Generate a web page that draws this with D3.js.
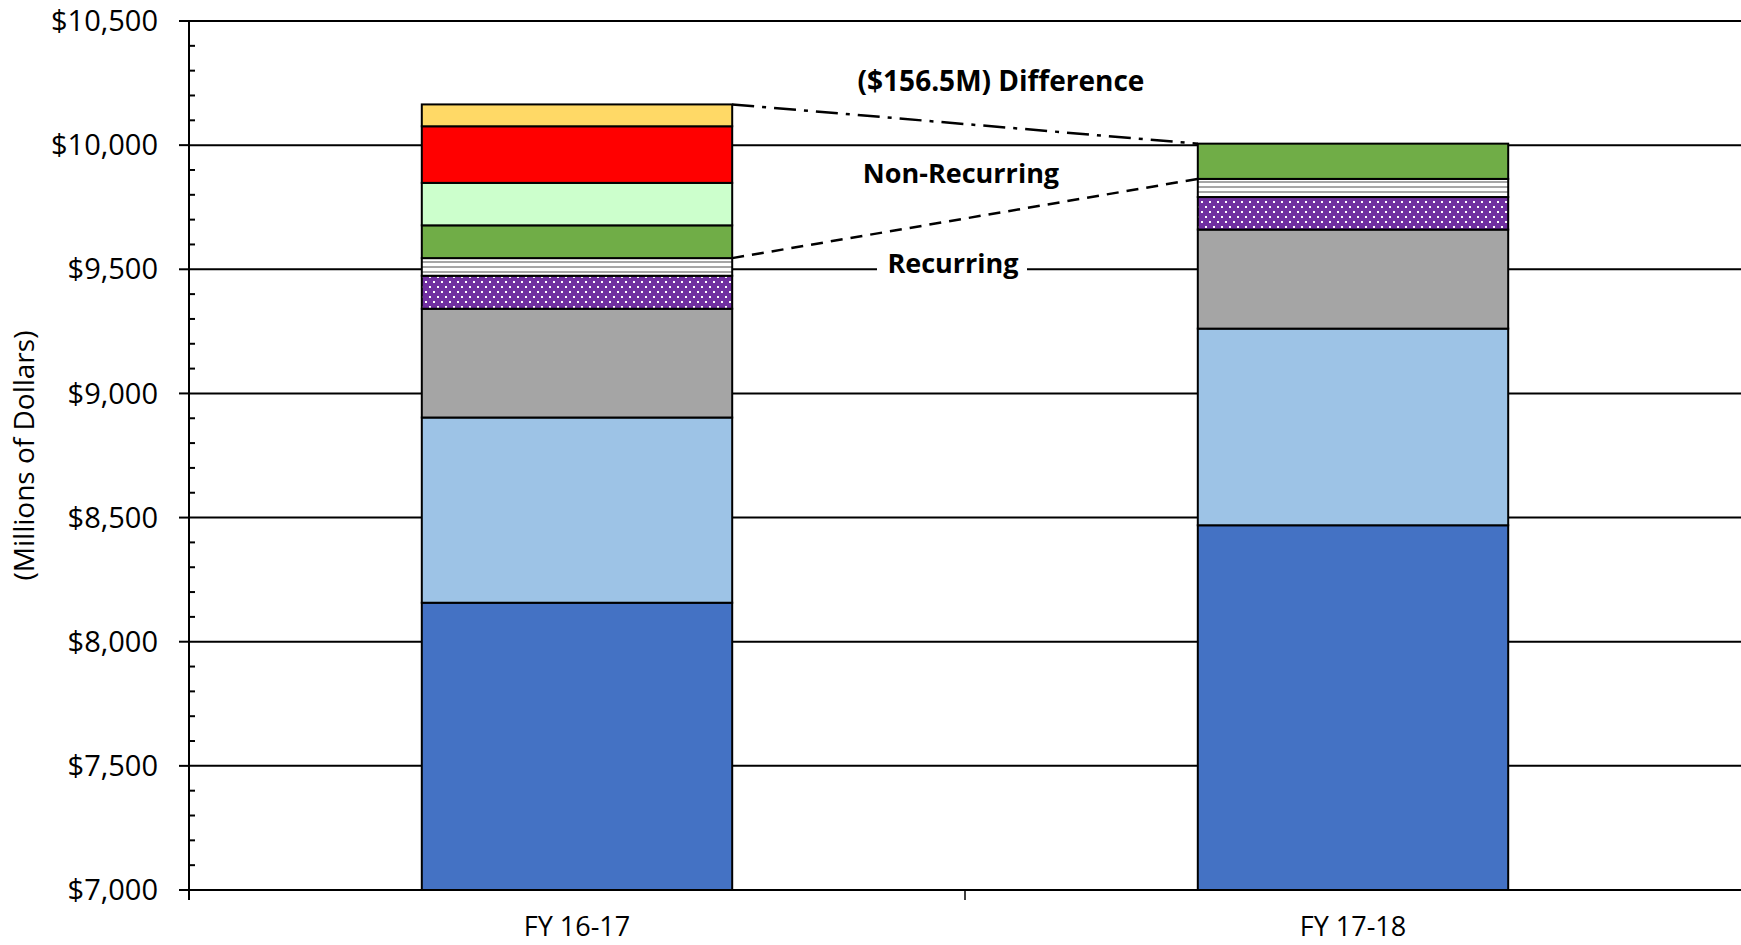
<!DOCTYPE html>
<html><head><meta charset="utf-8">
<script src="https://cdn.jsdelivr.net/npm/d3@7"></script>
<style>body{margin:0;background:#fff}svg{display:block}text{font-family:"Open Sans",sans-serif;fill:#000}</style>
</head><body><svg id="c" width="1741" height="945"></svg>
<script>
const categories = ["FY 16-17", "FY 17-18"];
const segmentNames = ["base","s2","s3","s4","s5","s6","s7","s8","s9"];
const segmentColors = ["#4472C4","#9DC3E6","#A5A5A5","url(#dots)","url(#stripes)","#70AD47","#CCFFCC","#FF0000","#FFD966"];
const fy1617 = [8157, 746, 438, 133, 71, 132, 171, 228, 88];
const fy1718 = [8469, 792, 399, 131, 73, 142, 0, 0, 0];
const yTicks = [7000, 7500, 8000, 8500, 9000, 9500, 10000, 10500];
const recurringIdx = 4;
const labels = {diff: "($156.5M) Difference", non: "Non-Recurring", rec: "Recurring", yTitle: "(Millions of Dollars)"};

(function(){
const svg = d3.select("#c");
const defs = svg.append("defs");
const pd = defs.append("pattern").attr("id","dots").attr("patternUnits","userSpaceOnUse").attr("width",8).attr("height",10);
pd.append("rect").attr("width",8).attr("height",10).attr("fill","#7030A0");
pd.append("rect").attr("x",1).attr("y",1).attr("width",2).attr("height",2).attr("fill","#fff");
pd.append("rect").attr("x",5).attr("y",6).attr("width",2).attr("height",2).attr("fill","#fff");
const ps = defs.append("pattern").attr("id","stripes").attr("patternUnits","userSpaceOnUse").attr("width",8).attr("height",5);
ps.append("rect").attr("width",8).attr("height",5).attr("fill","#fff");
ps.append("rect").attr("y",1).attr("width",8).attr("height",2).attr("fill","#A6A6A6");

const pL = 189, pR = 1741, pT = 21, pB = 890;
const y = d3.scaleLinear().domain([7000, 10500]).range([pB, pT]);
const x = d3.scaleBand().domain(categories).range([pL, pR]).paddingInner(0.6).paddingOuter(0.3);

svg.append("g").selectAll("line").data(yTicks.slice(1)).join("line")
  .attr("x1", pL).attr("x2", pR).attr("y1", d=>y(d)).attr("y2", d=>y(d))
  .attr("stroke","#000").attr("stroke-width",2);

const series = [fy1617, fy1718];
const stacks = series.map(vals => { let c = 0; return vals.map(v => { const s = {y0:c, y1:c+v, v}; c += v; return s; }); });
categories.forEach((cat, ci) => {
  const g = svg.append("g");
  g.selectAll("rect").data(stacks[ci].map((s,i)=>({...s,i})).filter(d=>d.v>0)).join("rect")
    .attr("x", x(cat)).attr("width", x.bandwidth())
    .attr("y", d => y(Math.min(d.y1,10500))).attr("height", d => y(Math.max(d.y0,7000)) - y(Math.min(d.y1,10500)))
    .attr("fill", d => segmentColors[d.i]).attr("stroke","#000").attr("stroke-width",2);
});

const yAxis = svg.append("g");
yAxis.append("line").attr("x1",pL).attr("x2",pL).attr("y1",pT).attr("y2",pB+10).attr("stroke","#000").attr("stroke-width",2);
const minor = d3.range(7000, 10500, 100).filter(v => v % 500 !== 0);
yAxis.selectAll(".mn").data(minor).join("line").attr("class","mn").attr("x1",pL).attr("x2",pL+6).attr("y1",d=>y(d)).attr("y2",d=>y(d)).attr("stroke","#000").attr("stroke-width",2);
yAxis.selectAll(".mj").data(yTicks).join("line").attr("class","mj").attr("x1",pL-10).attr("x2",pL).attr("y1",d=>y(d)).attr("y2",d=>y(d)).attr("stroke","#000").attr("stroke-width",2);
yAxis.selectAll("text").data(yTicks).join("text").attr("x", pL-31).attr("y", d=>y(d)).attr("dy","0.35em")
  .attr("text-anchor","end").attr("font-size",29).text(d => "$" + d3.format(",")(d));
svg.append("line").attr("x1",pL-10).attr("x2",pR).attr("y1",pB).attr("y2",pB).attr("stroke","#000").attr("stroke-width",2);
svg.append("line").attr("x1",pL+x.step()).attr("x2",pL+x.step()).attr("y1",pB).attr("y2",pB+10).attr("stroke","#000").attr("stroke-width",1.5);
svg.selectAll(".xl").data(categories).join("text").attr("class","xl").attr("x", d=>x(d)+x.bandwidth()/2).attr("y", 927).attr("dy","0.35em")
  .attr("text-anchor","middle").attr("font-size",27).text(d=>d);
svg.append("text").attr("transform",`translate(24,${(pT+pB)/2}) rotate(-90)`).attr("dy","0.35em")
  .attr("text-anchor","middle").attr("font-size",28).text(labels.yTitle);

const tot = s => s[s.length-1].y1;
const x1r = x(categories[0]) + x.bandwidth(), x2l = x(categories[1]);
svg.append("line").attr("x1",x1r).attr("y1",y(tot(stacks[0]))).attr("x2",x2l).attr("y2",y(tot(stacks[1])))
  .attr("stroke","#000").attr("stroke-width",2.5).attr("stroke-dasharray","22 8 4 8");
svg.append("line").attr("x1",x1r).attr("y1",y(stacks[0][recurringIdx].y1)).attr("x2",x2l).attr("y2",y(stacks[1][recurringIdx].y1))
  .attr("stroke","#000").attr("stroke-width",2.5).attr("stroke-dasharray","12 8");

svg.append("rect").attr("x",877).attr("y",y(9500)-3).attr("width",150).attr("height",6).attr("fill","#fff");
svg.append("text").attr("x",1001).attr("y",81).attr("dy","0.35em").attr("text-anchor","middle").attr("font-size",28).attr("font-weight","bold").text(labels.diff);
svg.append("text").attr("x",961).attr("y",174).attr("dy","0.35em").attr("text-anchor","middle").attr("font-size",27).attr("font-weight","bold").text(labels.non);
svg.append("text").attr("x",953).attr("y",264).attr("dy","0.35em").attr("text-anchor","middle").attr("font-size",27).attr("font-weight","bold").text(labels.rec);
})();
</script></body></html>
